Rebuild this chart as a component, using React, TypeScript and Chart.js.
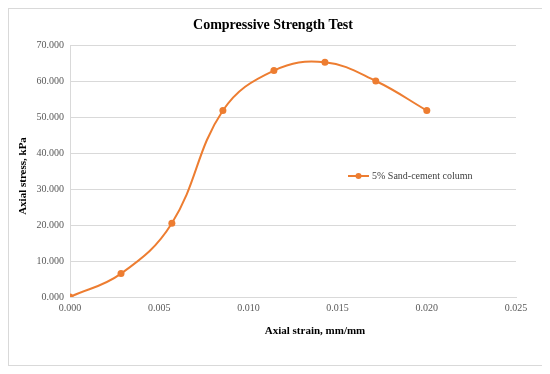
import React, { useEffect, useRef } from "react";
import { Chart, registerables } from "chart.js";

Chart.register(...registerables);

const strain = [0, 0.00286, 0.00571, 0.00857, 0.01143, 0.01429, 0.01714, 0.02];
const stress = [0, 6.5, 20.5, 51.8, 62.9, 65.2, 60.0, 51.8];
const seriesName = "5% Sand-cement column";
const chartTitle = "Compressive Strength Test";
const xTitle = "Axial strain, mm/mm";
const yTitle = "Axial stress, kPa";

const ORANGE = "#ED7D31";
const GRID = "#d9d9d9";
const FONT = "'Liberation Serif', 'Times New Roman', serif";

const textPlugin = {
  id: "textPlugin",
  afterDraw(chart: any) {
    const ctx = chart.ctx as CanvasRenderingContext2D;
    ctx.save();
    ctx.fillStyle = "#000";
    ctx.textAlign = "center";
    ctx.textBaseline = "middle";
    ctx.font = `bold 14px ${FONT}`;
    ctx.fillText(chartTitle, 264, 16);
    ctx.font = `bold 11px ${FONT}`;
    ctx.fillText(xTitle, 306, 322);
    ctx.save();
    ctx.translate(14, 167);
    ctx.rotate(-Math.PI / 2);
    ctx.fillText(yTitle, 0, 0);
    ctx.restore();
    // legend
    ctx.strokeStyle = ORANGE;
    ctx.lineWidth = 2;
    ctx.beginPath();
    ctx.moveTo(339, 167);
    ctx.lineTo(360, 167);
    ctx.stroke();
    ctx.fillStyle = ORANGE;
    ctx.beginPath();
    ctx.arc(349.5, 167, 3, 0, Math.PI * 2);
    ctx.fill();
    ctx.fillStyle = "#404040";
    ctx.textAlign = "left";
    ctx.font = `10px ${FONT}`;
    ctx.fillText(seriesName, 363, 167);
    ctx.restore();
  },
};

export default function App() {
  const ref = useRef<HTMLCanvasElement>(null);
  useEffect(() => {
    if (!ref.current) return;
    const chart = new Chart(ref.current, {
      type: "scatter",
      data: {
        datasets: [
          {
            label: seriesName,
            data: strain.map((x, i) => ({ x, y: stress[i] })),
            showLine: true,
            borderColor: ORANGE,
            backgroundColor: ORANGE,
            borderWidth: 2,
            pointRadius: 3.5,
            pointBorderWidth: 0,
            tension: 0.4,
          },
        ],
      },
      options: {
        animation: false,
        responsive: false,
        layout: { padding: { top: 36, right: 27, left: 0, bottom: 0 } },
        plugins: {
          legend: { display: false },
          title: { display: false },
          tooltip: { enabled: false },
        },
        scales: {
          x: {
            type: "linear",
            min: 0,
            max: 0.025,
            ticks: {
              stepSize: 0.005,
              padding: 5,
              color: "#595959",
              font: { family: FONT, size: 10 },
              callback: (v: any) => Number(v).toFixed(3),
            },
            grid: { display: false, drawTicks: false },
            border: { display: true, color: GRID, width: 1 },
            afterFit: (s: any) => {
              s.height = 68;
            },
          },
          y: {
            type: "linear",
            min: 0,
            max: 70,
            ticks: {
              stepSize: 10,
              padding: 6,
              color: "#595959",
              font: { family: FONT, size: 10 },
              callback: (v: any) => Number(v).toFixed(3),
            },
            grid: { display: true, color: GRID, drawTicks: false },
            border: { display: true, color: GRID, width: 1 },
            afterFit: (s: any) => {
              s.width = 61;
            },
          },
        },
      },
      plugins: [textPlugin],
    });
    return () => chart.destroy();
  }, []);
  return (
    <div
      style={{
        width: 534,
        height: 356,
        border: "1px solid #d9d9d9",
        background: "#fff",
      }}
    >
      <canvas ref={ref} width={534} height={356} style={{ display: "block" }} />
    </div>
  );
}
